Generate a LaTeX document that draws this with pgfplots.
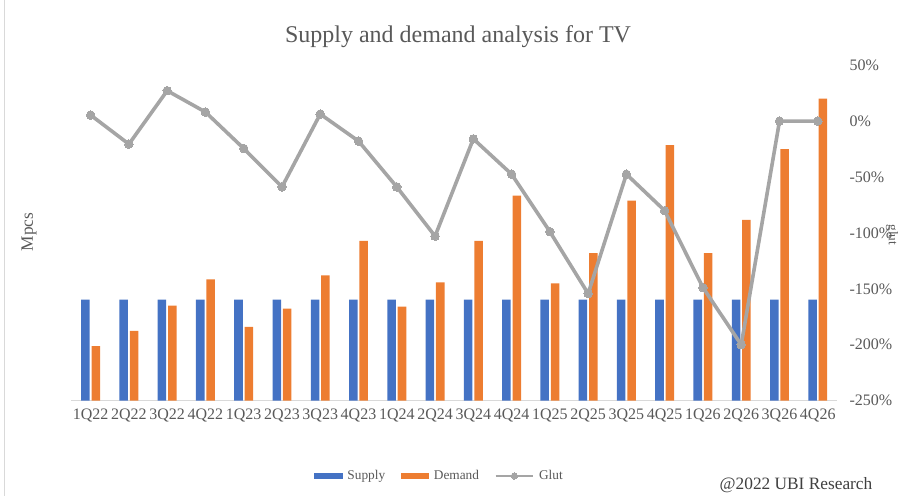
\documentclass[border=0pt]{standalone}
\usepackage{pgfplots}
\pgfplotsset{compat=1.18}
\usepackage{fontspec}
\setmainfont{Liberation Serif}
\definecolor{supC}{HTML}{4472C4}
\definecolor{demC}{HTML}{ED7D31}
\definecolor{glutC}{HTML}{A5A5A5}
\definecolor{txtC}{HTML}{595959}
\definecolor{lineC}{HTML}{D9D9D9}
\begin{document}
\begin{tikzpicture}[x=1pt,y=1pt]
\useasboundingbox (-53.625,-71.55) rectangle (621.375,300.45);
\draw[lineC, line width=0.75pt] (-50.6,-71.55) -- (-50.6,300.45);
\begin{axis}[
  at={(0,0)}, anchor=south west, scale only axis,
  width=574.05pt, height=251.55pt,
  xmin=-0.5, xmax=19.5, ymin=0, ymax=332,
  xtick={0,...,19},
  xticklabels={1Q22,2Q22,3Q22,4Q22,1Q23,2Q23,3Q23,4Q23,1Q24,2Q24,3Q24,4Q24,1Q25,2Q25,3Q25,4Q25,1Q26,2Q26,3Q26,4Q26},
  xticklabel style={font=\fontsize{12}{14}\selectfont, text=txtC, yshift=-3pt},
  axis x line*=bottom, axis y line*=left,
  x axis line style={draw=lineC, line width=0.75pt, -},
  y axis line style={draw=none},
  ytick=\empty, major tick length=0pt,
  ylabel={Mpcs},
  ylabel style={at={(axis description cs:-0.0555,0.503)}, anchor=center, font=\fontsize{13}{15}\selectfont, text=txtC},
  legend style={at={(axis description cs:0.4807,-0.2248)}, anchor=center, draw=none, fill=none,
    font=\fontsize{10}{12}\selectfont, text=txtC, legend columns=3,
    /tikz/every odd column/.append style={column sep=2pt},
    /tikz/every even column/.append style={column sep=10pt},
    inner sep=0pt, nodes={inner sep=1.5pt}},
]
\addplot[ybar, bar width=6.4pt, bar shift=-3.9pt, fill=supC, draw=none,
  legend image code/.code={\fill[supC] (0pt,-2.6pt) rectangle (21.5pt,2.6pt);}]
  coordinates {(0,100)(1,100)(2,100)(3,100)(4,100)(5,100)(6,100)(7,100)(8,100)(9,100)(10,100)(11,100)(12,100)(13,100)(14,100)(15,100)(16,100)(17,100)(18,100)(19,100)};
\addlegendentry{Supply}
\addplot[ybar, bar width=6.4pt, bar shift=3.9pt, fill=demC, draw=none,
  legend image code/.code={\fill[demC] (0pt,-2.6pt) rectangle (21.5pt,2.6pt);}]
  coordinates {(0,54)(1,69)(2,94)(3,120)(4,73)(5,91)(6,124)(7,158)(8,93)(9,117)(10,158)(11,203)(12,116)(13,146)(14,198)(15,253)(16,146)(17,179)(18,249)(19,299)};
\addlegendentry{Demand}
\addlegendimage{glutC, line width=2pt, mark=*, mark size=2.4pt, mark options={fill=glutC, draw=glutC, line width=0pt},
  legend image code/.code={\draw[mark repeat=2,mark phase=2] plot coordinates {(0pt,0pt) (14pt,0pt) (28pt,0pt)};}}
\addlegendentry{Glut}
\end{axis}
\begin{axis}[
  at={(0,0)}, anchor=south west, scale only axis,
  width=574.05pt, height=251.55pt,
  xmin=-0.5, xmax=19.5, ymin=-250, ymax=50,
  axis x line=none, axis y line*=right,
  y axis line style={draw=none},
  ytick={-250,-200,-150,-100,-50,0,50},
  yticklabels={-250\%,-200\%,-150\%,-100\%,-50\%,0\%,50\%},
  yticklabel style={font=\fontsize{12}{14}\selectfont, text=txtC, anchor=west, xshift=6pt},
  major tick length=0pt,
  clip=false,
]
\addplot[glutC, line width=2.7pt, mark=*, mark size=3.2pt, mark options={fill=glutC, draw=glutC, line width=0pt}]
  coordinates {(0,5.4)(1,-20.6)(2,27.2)(3,8.1)(4,-24.5)(5,-58.9)(6,6.3)(7,-17.9)(8,-58.9)(9,-102.9)(10,-15.9)(11,-47.5)(12,-98.9)(13,-154.3)(14,-47.5)(15,-80.1)(16,-148.9)(17,-200)(18,0)(19,0)};
\node[rotate=-90, font=\fontsize{10}{12}\selectfont, text=txtC, inner sep=0pt] at (axis description cs:1.0720,0.494) {glut};
\end{axis}
\node[font=\fontsize{18}{21}\selectfont, text=txtC] at (289.9,273.2) {Supply and demand analysis for TV};
\node[font=\fontsize{13}{15}\selectfont, text=black!75] at (543.4,-63.3) {@2022 UBI Research};
\end{tikzpicture}
\end{document}
